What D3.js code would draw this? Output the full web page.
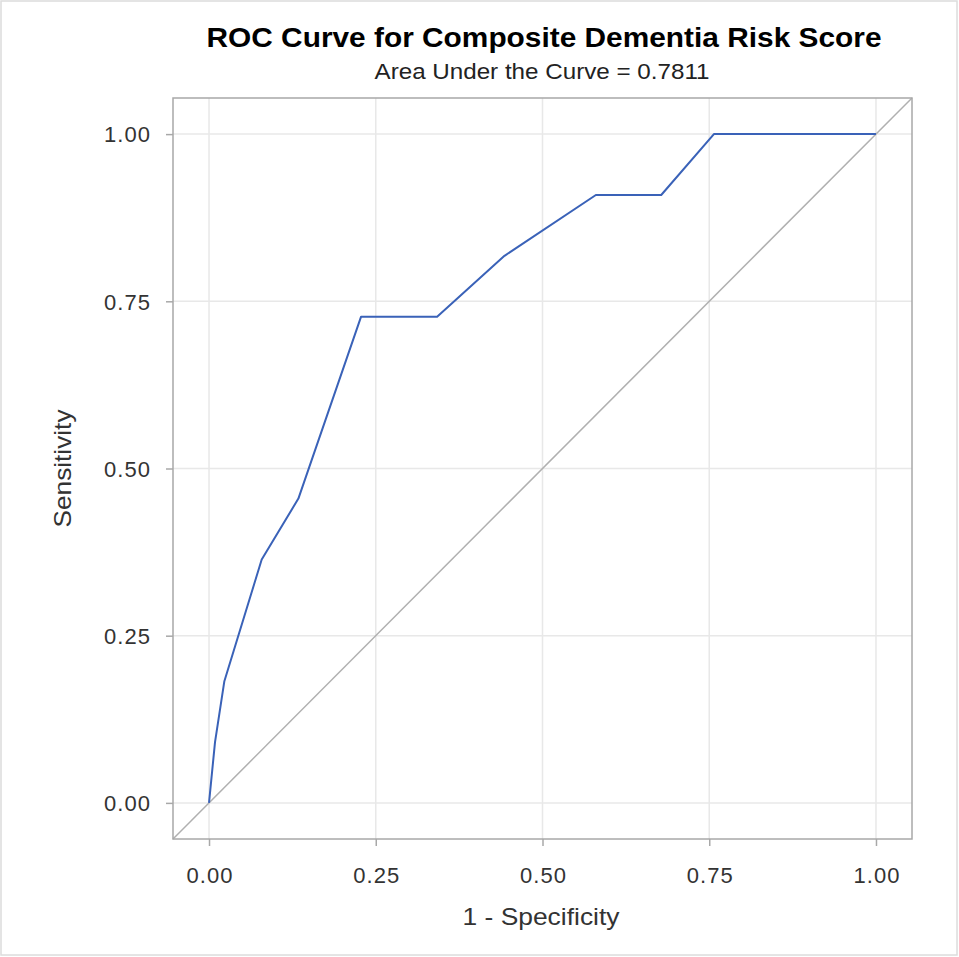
<!DOCTYPE html>
<html>
<body>
    <style>
        body, html { margin: 0; padding: 0; background: #fff; }
        svg { display: block; font-family: "Liberation Sans", Arial, sans-serif; }
    </style>
    <svg width="959" height="957"></svg>
    <script src="https://cdn.jsdelivr.net/npm/d3@7"></script>
    <script>
        // ROC points (1 - specificity, sensitivity)
        var fpr = [0, 0.009, 0.023, 0.079, 0.134, 0.228, 0.342, 0.443, 0.580, 0.678, 0.757, 1];
        var tpr = [0, 0.091, 0.182, 0.364, 0.455, 0.727, 0.727, 0.818, 0.909, 0.909, 1, 1];
        var xTicks = [0, 0.25, 0.5, 0.75, 1];
        var yTicks = [0, 0.25, 0.5, 0.75, 1];
        var titleText = "ROC Curve for Composite Dementia Risk Score";
        var subText = "Area Under the Curve = 0.7811";

        var svg = d3.select("svg");
        var pLeft = 173, pRight = 912, pTop = 98, pBottom = 839;

        var x = d3.scaleLinear().domain([-0.054, 1.054]).range([pLeft, pRight]);
        var y = d3.scaleLinear().domain([-0.054, 1.054]).range([pBottom, pTop]);

        // outer border
        svg.append("rect").attr("x", 1).attr("y", 1).attr("width", 956).attr("height", 954)
            .attr("fill", "none").attr("stroke", "#dcdcdc").attr("stroke-width", 1.5);

        // grid
        svg.append("g").selectAll("line").data(xTicks).join("line")
            .attr("x1", d => x(d)).attr("x2", d => x(d)).attr("y1", pTop).attr("y2", pBottom)
            .attr("stroke", "#e8e8e8").attr("stroke-width", 1.5);
        svg.append("g").selectAll("line").data(yTicks).join("line")
            .attr("y1", d => y(d)).attr("y2", d => y(d)).attr("x1", pLeft).attr("x2", pRight)
            .attr("stroke", "#e8e8e8").attr("stroke-width", 1.5);

        // diagonal reference line
        svg.append("line")
            .attr("x1", x(-0.054)).attr("y1", y(-0.054)).attr("x2", x(1.054)).attr("y2", y(1.054))
            .attr("stroke", "#b0b0b0").attr("stroke-width", 1.5);

        // curve
        var pts = d3.zip(fpr, tpr);
        svg.append("path").datum(pts)
            .attr("d", d3.line().x(d => x(d[0])).y(d => y(d[1])))
            .attr("fill", "none").attr("stroke", "#3a62b8").attr("stroke-width", 2)
            .attr("stroke-linejoin", "round");

        // frame
        svg.append("rect").attr("x", pLeft).attr("y", pTop)
            .attr("width", pRight - pLeft).attr("height", pBottom - pTop)
            .attr("fill", "none").attr("stroke", "#a8a8a8").attr("stroke-width", 1.5);

        // axes
        var xAxis = svg.append("g").attr("transform", "translate(0," + pBottom + ")")
            .call(d3.axisBottom(x).tickValues(xTicks).tickFormat(d3.format(".2f")).tickSize(7));
        var yAxis = svg.append("g").attr("transform", "translate(" + pLeft + ",0)")
            .call(d3.axisLeft(y).tickValues(yTicks).tickFormat(d3.format(".2f")).tickSize(7));
        [xAxis, yAxis].forEach(function (g) {
            g.select(".domain").remove();
            g.selectAll(".tick line").attr("stroke", "#a8a8a8").attr("stroke-width", 1.5);
            g.selectAll(".tick text").attr("fill", "#333").attr("font-size", 22)
                .attr("font-family", "'Liberation Sans', Arial, sans-serif");
        });
        xAxis.selectAll(".tick text").attr("y", 44).attr("dy", null).attr("textLength", 46);
        yAxis.selectAll(".tick text").attr("x", -23).attr("dy", "0.35em").attr("textLength", 46);

        // titles
        svg.append("text").attr("x", 544).attr("y", 47).attr("text-anchor", "middle")
            .attr("font-size", 28).attr("font-weight", "bold").attr("fill", "#000")
            .attr("textLength", 675).attr("lengthAdjust", "spacingAndGlyphs").text(titleText);
        svg.append("text").attr("x", 542).attr("y", 79).attr("text-anchor", "middle")
            .attr("font-size", 22).attr("fill", "#222")
            .attr("textLength", 335).attr("lengthAdjust", "spacingAndGlyphs").text(subText);
        svg.append("text").attr("x", 541).attr("y", 925).attr("text-anchor", "middle")
            .attr("font-size", 24).attr("fill", "#333")
            .attr("textLength", 157).attr("lengthAdjust", "spacingAndGlyphs").text("1 - Specificity");
        svg.append("text").attr("transform", "translate(71," + y(0.5) + ") rotate(-90)")
            .attr("text-anchor", "middle").attr("font-size", 24).attr("fill", "#333")
            .attr("textLength", 118).attr("lengthAdjust", "spacingAndGlyphs").text("Sensitivity");
    </script>
</body>
</html>
